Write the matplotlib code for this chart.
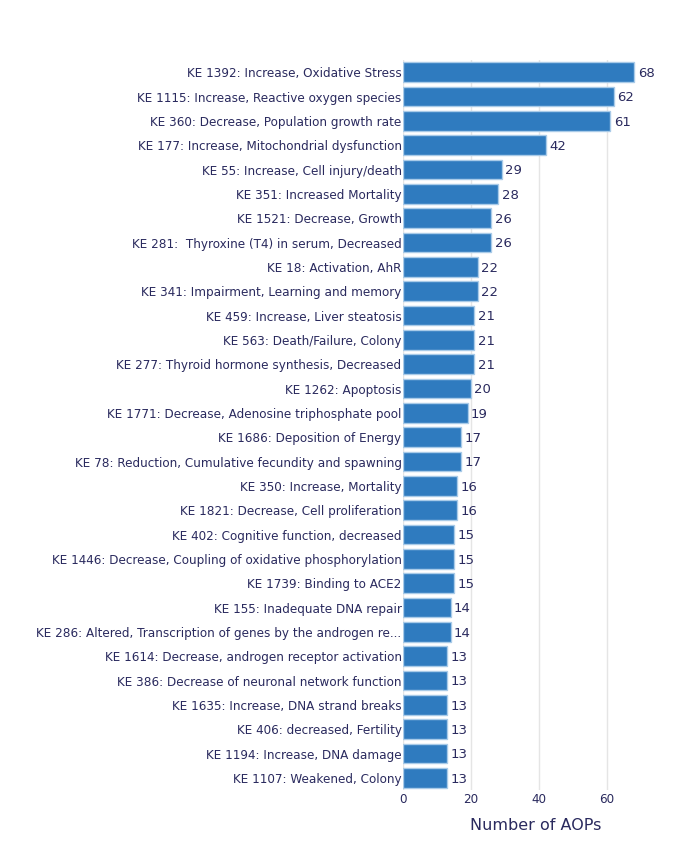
import matplotlib
matplotlib.use("Agg")
import matplotlib.pyplot as plt

labels = [
    "KE 1392: Increase, Oxidative Stress",
    "KE 1115: Increase, Reactive oxygen species",
    "KE 360: Decrease, Population growth rate",
    "KE 177: Increase, Mitochondrial dysfunction",
    "KE 55: Increase, Cell injury/death",
    "KE 351: Increased Mortality",
    "KE 1521: Decrease, Growth",
    "KE 281:  Thyroxine (T4) in serum, Decreased",
    "KE 18: Activation, AhR",
    "KE 341: Impairment, Learning and memory",
    "KE 459: Increase, Liver steatosis",
    "KE 563: Death/Failure, Colony",
    "KE 277: Thyroid hormone synthesis, Decreased",
    "KE 1262: Apoptosis",
    "KE 1771: Decrease, Adenosine triphosphate pool",
    "KE 1686: Deposition of Energy",
    "KE 78: Reduction, Cumulative fecundity and spawning",
    "KE 350: Increase, Mortality",
    "KE 1821: Decrease, Cell proliferation",
    "KE 402: Cognitive function, decreased",
    "KE 1446: Decrease, Coupling of oxidative phosphorylation",
    "KE 1739: Binding to ACE2",
    "KE 155: Inadequate DNA repair",
    "KE 286: Altered, Transcription of genes by the androgen re...",
    "KE 1614: Decrease, androgen receptor activation",
    "KE 386: Decrease of neuronal network function",
    "KE 1635: Increase, DNA strand breaks",
    "KE 406: decreased, Fertility",
    "KE 1194: Increase, DNA damage",
    "KE 1107: Weakened, Colony",
]
values = [68, 62, 61, 42, 29, 28, 26, 26, 22, 22, 21, 21, 21, 20, 19, 17, 17,
          16, 16, 15, 15, 15, 14, 14, 13, 13, 13, 13, 13, 13]
xticks = [0, 20, 40, 60]

plt.rcParams['font.family'] = ['DejaVu Sans']
txt = '#2a2a5e'
fig = plt.figure(figsize=(7, 8.5), dpi=100)
ax = fig.add_axes([403/700, 1-790/850, (669-403)/700, 730/850])
y = list(range(len(values)))
ax.barh(y, values, height=0.8, color='#2f7bbf', edgecolor='#a9cbe8', linewidth=1, zorder=3)
for yi, v in zip(y, values):
    ax.text(v + 1, yi + 0.05, str(v), va='center', ha='left', fontsize=9.5, color=txt, zorder=4)
ax.set_yticks(y)
ax.set_yticklabels(labels, fontsize=8.65, color=txt)
ax.set_ylim(len(values) - 0.5, -0.5)
ax.set_xlim(0, 78.2)
ax.set_xticks(xticks)
ax.set_xticklabels([str(t) for t in xticks], fontsize=8.65, color=txt)
ax.tick_params(length=0, pad=1)
ax.tick_params(axis='x', pad=2)
ax.grid(axis='x', color='#e5e5e5', linewidth=1, zorder=0)
for s in ax.spines.values():
    s.set_visible(False)
ax.set_xlabel("Number of AOPs", fontsize=11.5, color=txt, labelpad=9)
fig.savefig("out.png", dpi=100, facecolor='white')
